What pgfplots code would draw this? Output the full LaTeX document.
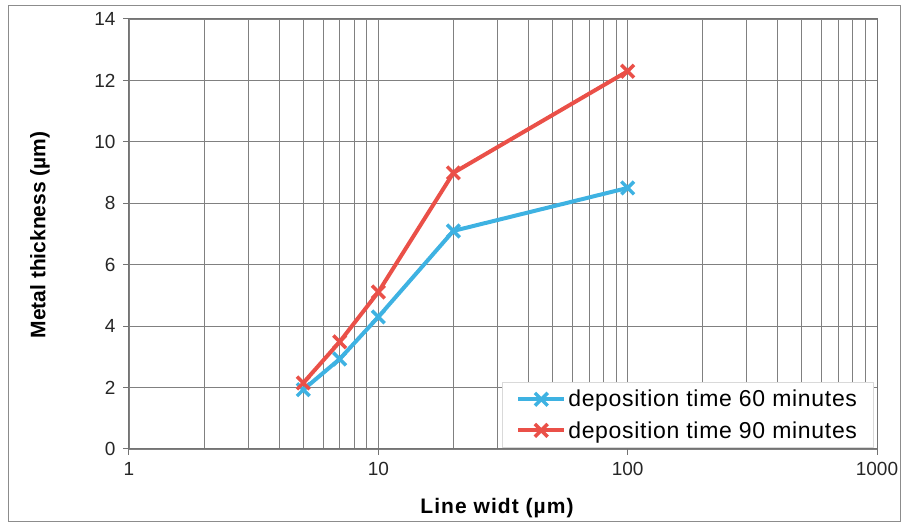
\documentclass[border=0pt]{standalone}
\usepackage{pgfplots}
\pgfplotsset{compat=1.18}
\usepackage{fontspec}
\setmainfont{Liberation Sans}
\newfontfamily\legfont[LetterSpace=3]{Liberation Sans}
\newfontfamily\xlabfont[LetterSpace=5]{Liberation Sans}
\definecolor{cblue}{RGB}{62,178,226}
\definecolor{cred}{RGB}{234,80,72}
\begin{document}
\begin{tikzpicture}
\path[use as bounding box] (0pt,0pt) rectangle (903pt,525pt);
\draw[black!45, line width=1pt] (8pt,3pt) rectangle (900pt,519pt);
\begin{axis}[
  at={(129pt,76pt)}, anchor=south west, scale only axis,
  width=748pt, height=430pt,
  xmode=log, xmin=1, xmax=1000, ymin=0, ymax=14,
  xtick={1,10,100,1000}, xticklabels={1,10,100,1000},
  ytick={0,2,...,14},
  xmajorgrids, xminorgrids, ymajorgrids,
  grid style={black!50, line width=0.9pt},
  minor grid style={black!50, line width=0.9pt},
  axis line style={black!55, line width=1pt},
  tick style={black!55, line width=1pt},
  tick align=outside, major tick length=6pt, minor tick length=0pt,
  xtick pos=bottom, ytick pos=left,
  /pgf/number format/assume math mode=true,
  tick label style={font=\fontsize{19pt}{21pt}\selectfont, text=black!85},
  xticklabel style={yshift=-4pt},
  yticklabel style={xshift=-4pt},
  xlabel={\xlabfont\bfseries Line widt (µm)},
  ylabel={\textbf{Metal thickness (µm)}},
  label style={font=\fontsize{21pt}{23pt}\selectfont},
  xlabel style={at={(axis description cs:0.492,-0.137)}, anchor=center},
  ylabel style={at={(axis description cs:-0.119,0.498)}, anchor=center},
  legend style={at={(0.995,0.003)}, anchor=south east, draw=black!15, fill=white,
    font=\fontsize{23pt}{26pt}\selectfont\legfont, row sep=9pt,
    inner xsep=14pt, inner ysep=6pt,
    nodes={inner sep=2pt}},
  legend cell align=left,
  legend image code/.code={%
    \draw[mark repeat=2, mark phase=2] plot coordinates {(0pt,0pt) (23pt,0pt) (46pt,0pt)};},
]
\addplot[cblue, line width=4pt, mark=x, mark size=9pt, mark options={line width=3.5pt}]
  coordinates {(5,1.93) (7,2.93) (10,4.3) (20,7.1) (100,8.5)};
\addlegendentry{deposition time 60 minutes}
\addplot[cred, line width=4pt, mark=x, mark size=9pt, mark options={line width=3.5pt}]
  coordinates {(5,2.15) (7,3.49) (10,5.11) (20,8.99) (100,12.3)};
\addlegendentry{deposition time 90 minutes}
\end{axis}
\end{tikzpicture}
\end{document}
